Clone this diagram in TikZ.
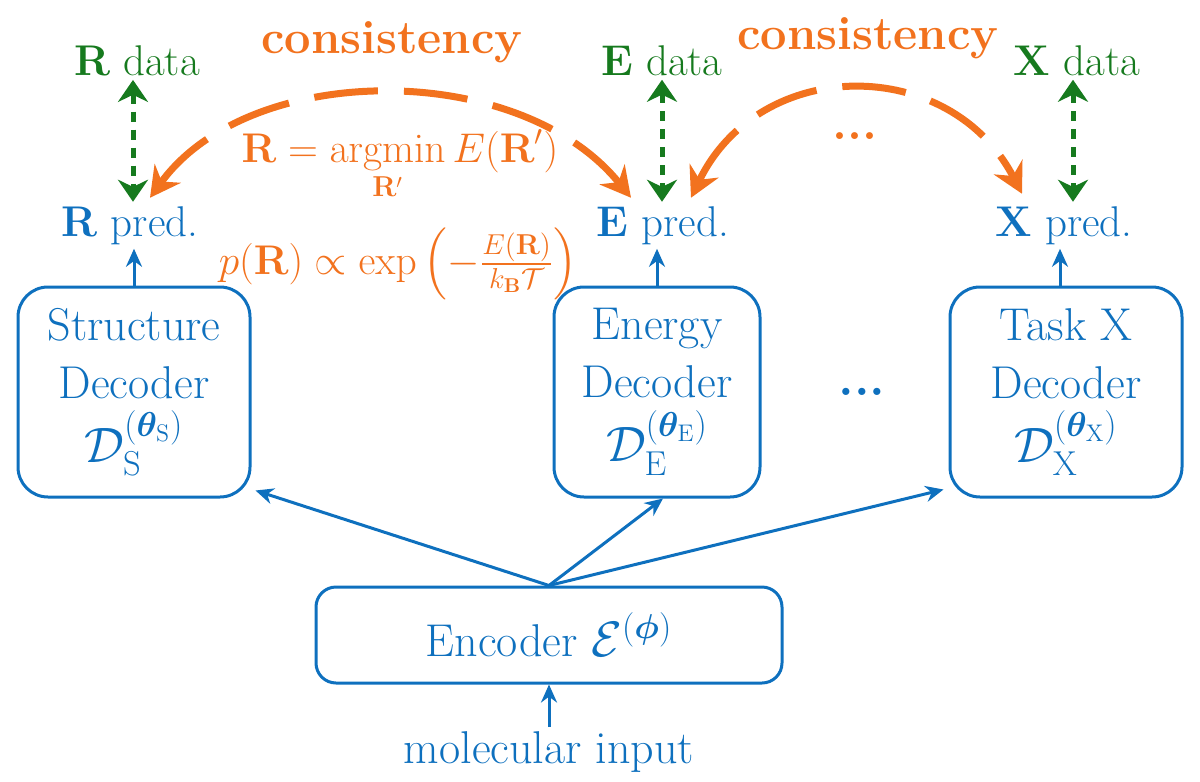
\documentclass[tikz,border=0pt]{standalone}
\usepackage{amsmath}
\usepackage{amssymb}
\usepackage{bm}
\usepackage{xcolor}
\usetikzlibrary{arrows.meta}
\definecolor{predblue}{RGB}{14,112,190}
\definecolor{datagreen}{RGB}{22,122,30}
\definecolor{consorange}{RGB}{242,114,30}
\tikzset{
    dec-box/.style = {draw=predblue, text=predblue, line width=1.5pt, rectangle, rounded corners=15pt, minimum width=116pt, minimum height=105pt, align=center, font=\fontsize{23}{29}\selectfont},
    enc-box/.style = {draw=predblue, text=predblue, line width=1.5pt, rectangle, rounded corners=10pt, minimum width=233pt, minimum height=48pt, font=\fontsize{23}{28}\selectfont},
    pred-text/.style = {text=predblue, anchor=base, inner sep=2pt, font=\fontsize{21.5}{26}\selectfont},
    data-text/.style = {text=datagreen, anchor=base, inner sep=2pt, font=\fontsize{21.5}{26}\selectfont},
    cons-text/.style = {text=consorange, font=\fontsize{23.5}{28}\selectfont\bfseries},
    feed-arrow/.style = {draw=predblue, line width=1.5pt, -{Stealth[length=9pt,width=8pt]}},
    data-arrow/.style = {draw=datagreen, line width=2.5pt, dash pattern=on 5pt off 4pt, {Stealth[length=11pt,width=15pt]}-{Stealth[length=11pt,width=15pt]}},
    consist-arrow/.style = {draw=consorange, line width=3.5pt, dash pattern=on 32pt off 13pt, {Stealth[length=15pt,width=16pt,inset=5pt]}-{Stealth[length=15pt,width=16pt,inset=5pt]}},
}

\begin{document}
\begin{tikzpicture}[x=0.5pt, y=-0.5pt]
\useasboundingbox (0,0) rectangle (1200,782);

% decoders and encoder
\node [dec-box] (sdec) at (134,392) {Structure\\Decoder\\[3pt]$\mathcal{D}_{\mathrm{S}}^{(\bm{\theta}_{\mathrm{S}})}$};
\node [dec-box, minimum width=103pt] (edec) at (657,392) {Energy\\Decoder\\[3pt]$\mathcal{D}_{\mathrm{E}}^{(\bm{\theta}_{\mathrm{E}})}$};
\node [dec-box] (xdec) at (1066,392) {Task X\\Decoder\\[3pt]$\mathcal{D}_{\mathrm{X}}^{(\bm{\theta}_{\mathrm{X}})}$};
\node [text=predblue, font=\fontsize{25}{30}\selectfont\bfseries] (bdots) at (862,392) {...};
\node [enc-box] (enc) at (549,635) {Encoder $\mathcal{E}^{(\bm{\phi})}$};
\node [pred-text, anchor=center, font=\fontsize{23}{28}\selectfont] (molin) at (549,752) {molecular input};

% predictions and data
\node [pred-text] (rpred) at (130,236) {\textbf{R} pred.};
\node [pred-text] (epred) at (663,236) {\textbf{E} pred.};
\node [pred-text] (xpred) at (1064,236) {\textbf{X} pred.};
\node [data-text] (rdata) at (137,75) {\textbf{R} data};
\node [data-text] (edata) at (662,75) {\textbf{E} data};
\node [data-text] (xdata) at (1077,75) {\textbf{X} data};

% consistency
\node [cons-text] (lcons) at (392,42) {consistency};
\node [cons-text] (rcons) at (868,38) {consistency};
\node [text=consorange, font=\fontsize{24}{28}\selectfont\bfseries] (odots) at (855,136) {...};
\node [text=consorange, inner sep=1pt, font=\fontsize{20}{25}\selectfont] (argmin) at (400,165) {$\displaystyle\mathbf{R}=\operatorname*{argmin}_{\mathbf{R}'} E(\mathbf{R}')$};
\node [text=consorange, inner sep=1pt, font=\fontsize{20}{25}\selectfont] (boltz) at (398,264) {$p(\mathbf{R})\propto\exp\left(-\frac{E(\mathbf{R})}{k_{\mathbf{B}}\mathcal{T}}\right)$};

% arrows
\draw [feed-arrow] (molin.north) -- (enc.south);
\draw [feed-arrow] (enc.north) -- ([shift={(4,-8)}]sdec.south east);
\draw [feed-arrow] (enc.north) -- ([xshift=3]edec.south);
\draw [feed-arrow] (enc.north) -- ([shift={(-5,-9)}]xdec.south west);
\draw [feed-arrow] (sdec.north) -- (sdec.north |- rpred.south);
\draw [feed-arrow] (edec.north) -- (edec.north |- epred.south);
\draw [feed-arrow] ([xshift=-3]xdec.north) -- ([xshift=-3]xdec.north |- xpred.south);
\draw [data-arrow] ([xshift=-2]rdata.south) -- ([xshift=-2]rdata.south |- rpred.north);
\draw [data-arrow] (edata.south) -- (edata.south |- epred.north);
\draw [data-arrow] ([xshift=-2]xdata.south) -- ([xshift=-2]xdata.south |- xpred.north);
\coordinate (lc-r) at ([shift={(20,-4)}]rpred.north);
\coordinate (lc-e) at ([shift={(-32,-4)}]epred.north);
\coordinate (rc-e) at ([shift={(28,-4)}]epred.north);
\coordinate (rc-x) at ([shift={(-42,-8)}]xpred.north);
\draw [consist-arrow] (lc-r) .. controls (250,60) and (520,60) .. (lc-e);
\draw [consist-arrow] (rc-e) .. controls (760,55) and (950,55) .. (rc-x);
\end{tikzpicture}
\end{document}
